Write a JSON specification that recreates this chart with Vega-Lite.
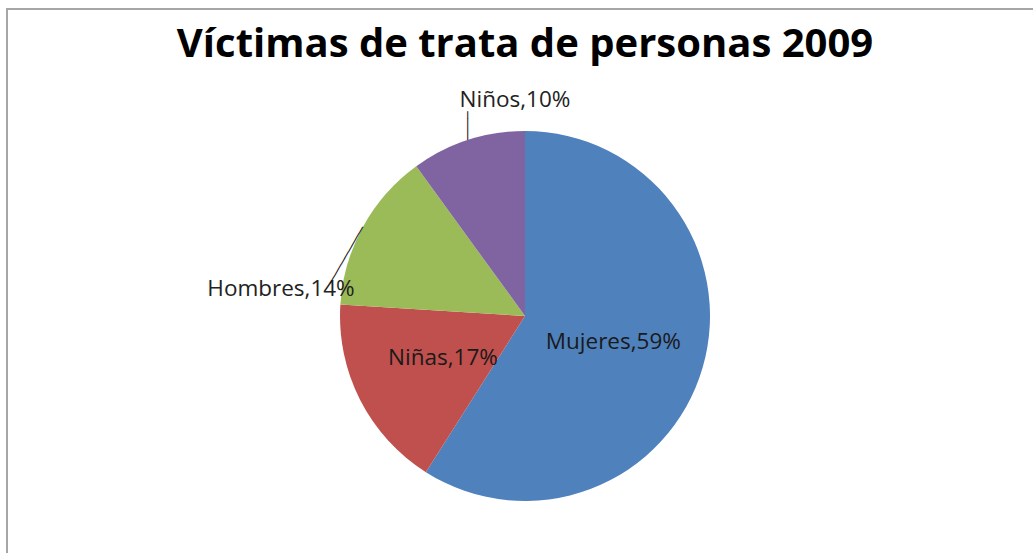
{
  "$schema": "https://vega.github.io/schema/vega-lite/v6.json",
  "autosize": "none",
  "padding": {"left": 7, "top": 9, "right": 0, "bottom": 0},
  "width": 1036,
  "height": 614,
  "background": "white",
  "view": {"stroke": "#a6a6a6", "strokeWidth": 2, "fill": "white"},
  "config": {"font": "Open Sans"},
  "title": {
    "text": "Víctimas de trata de personas 2009",
    "font": "Open Sans",
    "fontSize": 40,
    "fontWeight": "bold",
    "color": "#000000",
    "anchor": "middle",
    "baseline": "alphabetic",
    "offset": -88
  },
  "data": {
    "values": [
      {"categoria": "Mujeres", "valor": 59, "etiqueta": "Mujeres,59%"},
      {"categoria": "Niñas", "valor": 17, "etiqueta": "Niñas,17%"},
      {"categoria": "Hombres", "valor": 14, "etiqueta": "Hombres,14%"},
      {"categoria": "Niños", "valor": 10, "etiqueta": "Niños,10%"}
    ]
  },
  "encoding": {
    "theta": {"field": "valor", "type": "quantitative", "stack": true},
    "order": {"field": "valor", "type": "quantitative", "sort": "descending"}
  },
  "layer": [
    {
      "mark": {"type": "arc", "radius": 185},
      "encoding": {
        "color": {
          "field": "categoria",
          "type": "nominal",
          "scale": {"domain": ["Mujeres", "Niñas", "Hombres", "Niños"], "range": ["#4f81bd", "#c0504d", "#9bbb59", "#8064a2"]},
          "legend": null
        }
      }
    },
    {
      "mark": {"type": "text", "radius": 92, "fontSize": 22.5, "font": "Open Sans", "fill": "#1a1a1a", "align": "center", "baseline": "middle"},
      "encoding": {
        "text": {"condition": {"test": "datum.categoria === 'Mujeres' || datum.categoria === 'Niñas'", "field": "etiqueta", "type": "nominal"}, "value": ""}
      }
    },
    {
      "mark": {"type": "text", "radius": 186, "dx": 47.5, "dy": -39, "fontSize": 22.5, "font": "Open Sans", "fill": "#222222", "align": "center", "baseline": "middle"},
      "encoding": {
        "text": {"condition": {"test": "datum.categoria === 'Niños'", "field": "etiqueta", "type": "nominal"}, "value": ""}
      }
    },
    {
      "mark": {"type": "text", "radius": 186, "dx": -81, "dy": 62.5, "fontSize": 22.5, "font": "Open Sans", "fill": "#222222", "align": "center", "baseline": "middle"},
      "encoding": {
        "text": {"condition": {"test": "datum.categoria === 'Hombres'", "field": "etiqueta", "type": "nominal"}, "value": ""}
      }
    },
    {
      "mark": {"type": "text", "radius": 185, "angle": 270, "fontSize": 12, "font": "DejaVu Sans Mono", "fill": "#111111", "align": "left", "baseline": "middle"},
      "encoding": {
        "text": {"condition": {"test": "datum.categoria === 'Niños'", "value": "────"}, "value": ""}
      }
    },
    {
      "mark": {"type": "text", "radius": 185, "angle": 300, "fontSize": 12, "font": "DejaVu Sans Mono", "fill": "#111111", "align": "right", "baseline": "middle"},
      "encoding": {
        "text": {"condition": {"test": "datum.categoria === 'Hombres'", "value": "─────────"}, "value": ""}
      }
    }
  ]
}
